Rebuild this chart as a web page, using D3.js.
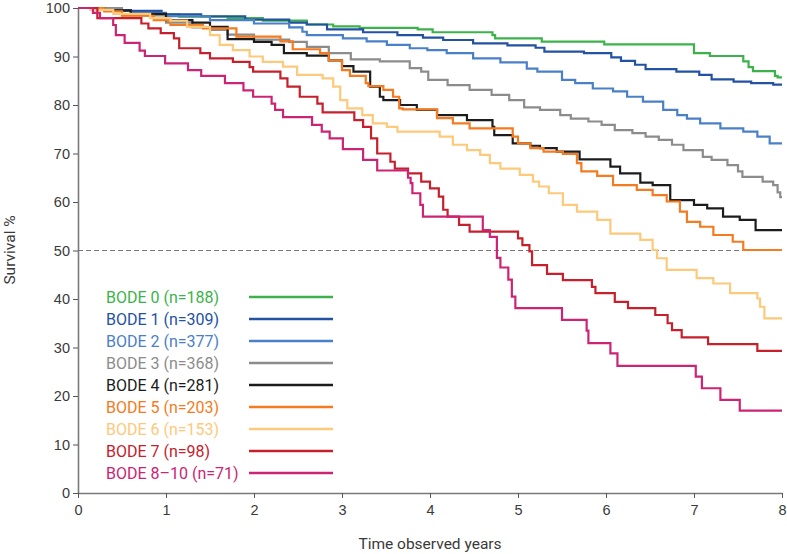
<!DOCTYPE html>
<html>
<head>
<meta charset="utf-8">
<script src="https://cdn.jsdelivr.net/npm/d3@7"></script>
<style>
  body { margin: 0; background: #fff; }
  svg { font-family: Roboto, "DejaVu Sans", sans-serif; }
</style>
</head>
<body>
<svg id="chart" width="787" height="554"></svg>
<script>
// Kaplan-Meier steps: [years, survival %]
var bode0 = [[0,100],[0.3,99.5],[0.6,98.7],[1.15,98.2],[1.7,97.9],[2.1,97.4],[2.6,96.6],[2.9,96.2],[3.2,95.9],[3.86,95.6],[4.03,95.0],[4.71,94.4],[4.74,93.75],[5.27,93.05],[5.98,92.5],[7.0,90.7],[7.18,90.1],[7.56,89.0],[7.62,87.8],[7.67,87.0],[7.92,86.0],[7.95,85.7],[8,85.7]];
var bode1 = [[0,100],[0.4,99.4],[0.95,98.7],[1.4,98.3],[1.9,97.6],[2.4,97.0],[2.6,96.6],[2.83,95.6],[3.24,95.0],[3.63,94.4],[3.92,93.9],[4.15,93.4],[4.49,92.7],[4.88,92.3],[5.2,91.8],[5.3,91.0],[5.75,90.7],[6.06,89.8],[6.17,89.1],[6.33,88.3],[6.45,87.4],[6.8,86.9],[7.06,86.2],[7.2,85.3],[7.45,84.8],[7.65,84.5],[7.9,84.2],[8,84.2]];
var bode2 = [[0,100],[0.3,99.5],[0.6,99.0],[1.0,98.3],[1.5,97.5],[2.0,96.8],[2.4,96.0],[2.55,95.1],[2.6,94.4],[3.01,93.75],[3.28,93.1],[3.51,92.4],[3.77,91.7],[3.97,91.3],[4.19,90.7],[4.49,89.6],[4.8,88.8],[5.1,87.5],[5.22,86.9],[5.5,85.2],[5.65,84.5],[5.85,83.4],[6.08,82.8],[6.24,81.7],[6.42,80.7],[6.65,79.0],[6.81,77.9],[6.92,77.2],[7.07,76.2],[7.3,75.2],[7.56,74.5],[7.72,73.5],[7.86,72.1],[8,72.1]];
var bode3 = [[0,100],[0.5,98.5],[1.0,97.0],[1.3,96.0],[1.5,95.5],[1.7,94.5],[2.0,93.5],[2.4,93.0],[2.6,92.0],[2.85,90.7],[3.1,89.4],[3.43,89.0],[3.77,87.6],[3.9,86.9],[3.98,85.2],[4.2,84.1],[4.45,83.1],[4.7,82.1],[4.9,81.0],[5.07,79.5],[5.25,79.0],[5.48,77.9],[5.6,77.2],[5.8,76.6],[5.95,75.9],[6.1,74.8],[6.3,74.2],[6.45,73.5],[6.6,72.8],[6.75,71.8],[6.88,70.7],[7.1,69.3],[7.2,68.7],[7.38,67.6],[7.5,66.3],[7.55,65.2],[7.78,64.2],[7.9,63.5],[7.95,62.0],[7.98,61.0],[8,61.0]];
var bode4 = [[0,100],[0.3,99.5],[0.6,98.8],[1.0,97.5],[1.3,97.0],[1.5,96.1],[1.7,93.6],[2.0,93.0],[2.2,92.4],[2.34,90.7],[2.6,90.2],[2.85,89.2],[3.0,88.0],[3.13,86.9],[3.32,83.8],[3.43,81.7],[3.47,81.0],[3.66,80.0],[3.85,79.0],[4.08,77.9],[4.42,76.9],[4.71,75.5],[4.73,73.8],[4.94,72.1],[5.14,71.6],[5.25,71.1],[5.44,70.4],[5.7,68.8],[6.05,67.3],[6.16,65.9],[6.39,64.0],[6.53,63.5],[6.73,60.4],[7.0,59.4],[7.15,58.7],[7.33,57.0],[7.52,56.3],[7.7,54.2],[8,54.2]];
var bode5 = [[0,100],[0.3,99.3],[0.5,98.4],[0.86,97.5],[1.05,96.5],[1.42,95.8],[1.8,94.1],[2.3,93.1],[2.44,91.5],[2.75,90.7],[2.85,89.2],[3.0,87.2],[3.09,86.0],[3.27,84.5],[3.3,83.9],[3.47,83.1],[3.58,81.7],[3.65,79.3],[3.69,79.1],[4.08,77.3],[4.26,76.2],[4.45,75.2],[4.94,73.5],[5.0,72.1],[5.14,71.1],[5.29,70.4],[5.51,69.9],[5.67,68.0],[5.72,66.3],[5.9,65.4],[6.08,63.5],[6.35,62.5],[6.53,61.4],[6.69,60.1],[6.84,58.0],[6.92,55.9],[7.07,54.9],[7.22,53.2],[7.44,51.8],[7.56,50.1],[8,50.1]];
var bode6 = [[0,100],[0.14,99.6],[0.4,98.8],[0.82,97.9],[1.05,97.4],[1.24,96.1],[1.5,94.4],[1.61,92.4],[1.76,91.3],[1.95,90.0],[2.1,88.9],[2.33,87.9],[2.49,86.2],[2.78,85.5],[2.9,83.8],[2.98,81.0],[3.06,79.3],[3.23,77.9],[3.35,76.2],[3.51,75.5],[3.63,74.5],[4.11,73.5],[4.26,71.8],[4.42,70.7],[4.57,69.7],[4.68,68.0],[4.8,66.9],[5.02,65.6],[5.17,64.2],[5.24,63.2],[5.35,61.8],[5.51,59.4],[5.67,58.0],[5.9,56.3],[6.05,53.5],[6.39,52.2],[6.53,50.1],[6.58,48.4],[6.69,46.0],[7.03,44.3],[7.22,43.2],[7.41,41.2],[7.72,40.1],[7.75,38.4],[7.8,36.0],[8,36.0]];
var bode7 = [[0,100],[0.22,97.9],[0.72,96.8],[0.8,95.8],[0.94,94.8],[1.09,93.75],[1.15,91.7],[1.39,90.7],[1.5,89.6],[1.76,88.9],[1.95,87.8],[1.99,86.9],[2.3,85.5],[2.38,83.8],[2.52,81.7],[2.72,80.3],[2.78,78.5],[3.14,76.9],[3.24,75.5],[3.33,73.1],[3.4,70.0],[3.55,68.3],[3.6,66.9],[3.75,65.9],[3.9,64.2],[4.0,62.8],[4.1,61.1],[4.15,58.4],[4.2,57.0],[4.33,55.3],[4.45,53.9],[5.0,52.5],[5.05,51.1],[5.13,49.8],[5.16,47.0],[5.33,45.2],[5.51,43.9],[5.84,42.5],[5.88,41.2],[6.1,39.4],[6.25,38.1],[6.56,36.7],[6.7,35.0],[6.75,33.6],[6.86,32.1],[7.16,30.7],[7.72,29.3],[8,29.3]];
var bode8 = [[0,100],[0.17,99.0],[0.25,97.9],[0.4,96.5],[0.43,94.4],[0.53,92.8],[0.7,91.2],[0.76,90.1],[0.99,88.6],[1.25,87.2],[1.4,86.0],[1.67,84.5],[1.88,83.0],[1.99,81.7],[2.2,80.3],[2.24,79.0],[2.33,77.5],[2.66,75.9],[2.77,74.5],[2.86,73.1],[3.01,70.9],[3.24,68.7],[3.4,66.5],[3.75,65.0],[3.78,63.9],[3.8,61.8],[3.89,59.4],[3.92,57.0],[4.6,54.2],[4.68,52.8],[4.76,48.5],[4.8,46.5],[4.89,44.0],[4.93,40.5],[4.97,38.1],[5.5,35.7],[5.78,33.5],[5.8,30.9],[6.05,28.8],[6.13,26.2],[7.02,24.0],[7.09,21.6],[7.3,19.2],[7.52,17.0],[8,17.0]];

var labels = ["BODE 0 (n=188)","BODE 1 (n=309)","BODE 2 (n=377)","BODE 3 (n=368)","BODE 4 (n=281)","BODE 5 (n=203)","BODE 6 (n=153)","BODE 7 (n=98)","BODE 8\u201310 (n=71)"];
var colors = ["#3bb34a","#2352a3","#4a80c8","#8c8c8c","#1c1c1c","#f47b20","#fdc97a","#c6202c","#cc2474"];
var series = [bode0, bode1, bode2, bode3, bode4, bode5, bode6, bode7, bode8];
var xTicks = [0,1,2,3,4,5,6,7,8];
var yTicks = [0,10,20,30,40,50,60,70,80,90,100];

var svg = d3.select("#chart");
var x = d3.scaleLinear().domain([0, 8]).range([78, 782]);
var y = d3.scaleLinear().domain([0, 100]).range([493, 8]);

// axes
var yAxis = svg.append("g").attr("transform", "translate(78,0)")
  .call(d3.axisLeft(y).tickValues(yTicks).tickSize(5).tickSizeOuter(0));
var xAxis = svg.append("g").attr("transform", "translate(0,493)")
  .call(d3.axisBottom(x).tickValues(xTicks).tickSize(5).tickSizeOuter(0));
[yAxis, xAxis].forEach(function(g) {
  g.select(".domain").attr("stroke", "#7a7a7a").attr("stroke-width", 1.6);
  g.selectAll(".tick line").attr("stroke", "#555");
  g.selectAll(".tick text").attr("fill", "#3a3a3a").style("font-size", "14.5px");
});
yAxis.selectAll(".tick text").attr("x", -8);
xAxis.selectAll(".tick text").attr("y", 12);

svg.append("text").attr("transform", "translate(15,250) rotate(-90)")
  .attr("text-anchor", "middle").attr("fill", "#3a3a3a").style("font-size", "15.5px")
  .text("Survival %");
svg.append("text").attr("x", 430).attr("y", 549)
  .attr("text-anchor", "middle").attr("fill", "#3a3a3a").style("font-size", "15.5px")
  .text("Time observed years");

// 50% reference
svg.append("line")
  .attr("x1", x(0)).attr("x2", x(8)).attr("y1", y(50)).attr("y2", y(50))
  .attr("stroke", "#777").attr("stroke-width", 1.2).attr("stroke-dasharray", "5,3");

var line = d3.line().x(function(d) { return x(d[0]); }).y(function(d) { return y(d[1]); })
  .curve(d3.curveStepAfter);

svg.append("g").selectAll("path").data(series).enter().append("path")
  .attr("d", line)
  .attr("fill", "none")
  .attr("stroke", function(d, i) { return colors[i]; })
  .attr("stroke-width", 2.2);

// legend
var leg = svg.append("g").selectAll("g").data(labels).enter().append("g")
  .attr("transform", function(d, i) { return "translate(0," + (297 + i * 22) + ")"; });
leg.append("text").attr("x", 106).attr("dy", "0.36em")
  .attr("fill", function(d, i) { return colors[i]; })
  .style("font-size", "16px")
  .text(function(d) { return d; });
leg.append("line").attr("x1", 249).attr("x2", 333)
  .attr("stroke", function(d, i) { return colors[i]; })
  .attr("stroke-width", 2.4);
</script>
</body>
</html>
